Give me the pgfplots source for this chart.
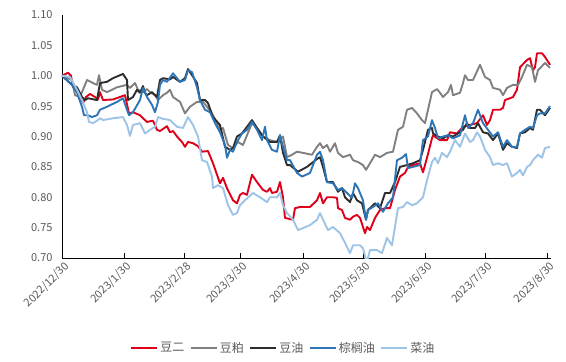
\documentclass[border=0pt]{standalone}
\usepackage{pgfplots}
\pgfplotsset{compat=1.18}
\usepackage{fontspec}
\setmainfont{Noto Sans CJK SC}
\definecolor{cred}{RGB}{222,0,26}
\definecolor{cgray}{RGB}{128,128,128}
\definecolor{cblack}{RGB}{45,45,45}
\definecolor{cblue}{RGB}{46,117,182}
\definecolor{clblue}{RGB}{157,195,230}
\definecolor{labgray}{RGB}{89,89,89}
\begin{document}
\begin{tikzpicture}
\useasboundingbox (-62pt,-104pt) rectangle (504pt,258pt);
\begin{axis}[
  at={(0pt,0pt)}, anchor=south west,
  scale only axis, width=489pt, height=243pt,
  xmin=0, xmax=244.5, ymin=0.70, ymax=1.10,
  axis x line*=bottom, axis y line*=left,
  axis line style={black, line width=0.8pt},
  tick align=inside,
  major tick length=5pt,
  xtick={0,31,61,89,120.5,150.5,181.5,211.5,242.75},
  xticklabels={2022/12/30,2023/1/30,2023/2/28,2023/3/30,2023/4/30,2023/5/30,2023/6/30,2023/7/30,2023/8/30},
  xtick style={black, line width=0.8pt},
  x tick label style={rotate=45, anchor=north east, font=\fontsize{11}{12}\selectfont, text=labgray, inner sep=1pt, yshift=-2pt},
  ytick={0.70,0.75,...,1.101},
  ytick style={draw=none},
  y tick label style={font=\fontsize{11}{12}\selectfont, text=labgray, /pgf/number format/.cd, fixed, fixed zerofill, precision=2},
  /pgf/number format/assume math mode=true,
  yticklabel shift=6pt,
  legend columns=5,
  legend style={at={(0.452,-0.37)}, anchor=center, draw=none, fill=none,
    font=\fontsize{12}{13}\selectfont, text=labgray, inner sep=0pt,
    /tikz/every even column/.append style={column sep=3pt}},
  legend image code/.code={\draw[line width=2.5pt] (0pt,0pt) -- (26pt,0pt);},
  every axis plot/.append style={line width=1.9pt, line join=round},
  clip=true,
]
\addplot[cred] coordinates {
(0,1.00)(3,1.005)(4.5,1.00)(5.5,0.981)(7.5,0.977)(10.5,0.955)(12,0.965)(14,0.970)(16.5,0.965)(18,0.961)(19,0.973)(20.5,0.960)(25.5,0.961)(31.5,0.968)(32.5,0.953)(33.5,0.938)(35.5,0.940)(39,0.935)(40.5,0.930)(42.5,0.924)(45.5,0.926)(47.5,0.911)(49,0.909)(52.5,0.917)(54,0.907)(55.5,0.909)(57.5,0.900)(60,0.891)(61.5,0.883)(63,0.891)(65.5,0.889)(68,0.884)(70,0.875)(73,0.876)(75.5,0.856)(79,0.823)(80.5,0.832)(82.5,0.815)(85.5,0.795)(87.5,0.790)(89,0.804)(90.5,0.807)(92.5,0.804)(95,0.837)(97.5,0.825)(100.5,0.812)(102.5,0.809)(104,0.815)(105,0.807)(107.5,0.809)(109,0.825)(110.5,0.800)(111.5,0.766)(114,0.764)(115.5,0.763)(116.5,0.782)(119,0.784)(124,0.784)(127.5,0.795)(129,0.807)(130.5,0.790)(132.5,0.800)(135.5,0.800)(137.5,0.799)(138,0.782)(140,0.779)(141.5,0.766)(144,0.763)(145.5,0.768)(147.5,0.771)(149,0.766)(151.5,0.741)(152.5,0.751)(154,0.746)(156.5,0.766)(159,0.779)(161.5,0.782)(164,0.782)(166.5,0.812)(169,0.834)(171.5,0.840)(173,0.850)(175.5,0.853)(179,0.856)(180.5,0.841)(182.5,0.865)(185,0.897)(185.5,0.902)(189,0.894)(192.5,0.894)(194,0.907)(197.5,0.905)(200.5,0.916)(204,0.919)(207.5,0.922)(210.5,0.935)(212.5,0.919)(214,0.927)(215.5,0.944)(219,0.944)(220.5,0.947)(221.5,0.960)(224,0.963)(225.5,0.965)(227.5,0.977)(229,1.014)(232.5,1.026)(234,1.029)(235.5,1.009)(236.5,1.014)(237.5,1.037)(240,1.037)(241.5,1.031)(244,1.018)
};
\addlegendentry{豆二}
\addplot[cgray] coordinates {
(0,1.00)(5,0.993)(6.5,0.968)(9,0.965)(10.5,0.977)(12.5,0.993)(15.5,0.988)(17.5,0.985)(18.5,1.001)(20,0.977)(22.5,0.973)(27.5,0.981)(32.5,0.985)(34,0.980)(36.5,0.988)(38,0.977)(40.5,0.973)(42.5,0.978)(44,0.973)(46.5,0.968)(48,0.960)(50.5,0.968)(52.5,0.972)(54,0.977)(55.5,0.965)(59,0.957)(61.5,0.938)(64,0.949)(67.5,0.957)(70.5,0.957)(73,0.947)(75.5,0.935)(79,0.911)(80.5,0.914)(83,0.886)(85.5,0.881)(88,0.891)(90.5,0.886)(95,0.922)(97.5,0.914)(100.5,0.900)(104,0.894)(108,0.891)(110.5,0.900)(112.5,0.866)(115,0.870)(117.5,0.875)(120.5,0.873)(125,0.870)(127.5,0.883)(129,0.889)(130.5,0.881)(132.5,0.886)(134,0.875)(136.5,0.889)(138,0.873)(140.5,0.866)(144,0.870)(145.5,0.861)(148,0.858)(150.5,0.853)(152,0.845)(154,0.856)(156.5,0.870)(159,0.866)(162.5,0.873)(165.5,0.875)(168,0.911)(170.5,0.916)(172.5,0.944)(175,0.947)(177.5,0.938)(180,0.927)(181.5,0.922)(183,0.944)(185,0.973)(187.5,0.978)(189,0.972)(190.5,0.965)(193,0.973)(194.5,0.985)(195.5,0.968)(199,0.972)(200.5,0.988)(201.5,1.001)(203,0.993)(205.5,0.993)(209,1.018)(211.5,0.998)(214,0.993)(215.5,0.980)(219,0.977)(220.5,0.968)(222.5,0.980)(225.5,0.985)(228,0.985)(230,0.998)(232.5,1.018)(235,1.014)(236.5,0.990)(238,1.009)(241.5,1.021)(244,1.013)
};
\addlegendentry{豆粕}
\addplot[cblack] coordinates {
(0,1.00)(5,0.985)(7.5,0.981)(10,0.965)(11.5,0.960)(13,0.963)(17.5,0.960)(19,0.988)(22.5,0.990)(25.5,0.996)(30.5,1.003)(32.5,0.993)(33,0.960)(35.5,0.965)(37.5,0.977)(39,0.972)(40.5,0.983)(41.5,0.972)(42.5,0.968)(45,0.973)(47.5,0.965)(49,0.993)(50.5,0.996)(54,0.994)(55.5,0.998)(59,0.990)(61.5,0.996)(63,1.011)(65,1.001)(67.5,0.988)(69,0.960)(71.5,0.960)(73,0.955)(75.5,0.932)(79,0.919)(81.5,0.883)(84,0.878)(85.5,0.881)(87.5,0.900)(90,0.905)(92.5,0.916)(95,0.927)(97.5,0.914)(100.5,0.900)(104,0.891)(107.5,0.891)(109,0.902)(110.5,0.873)(112.5,0.853)(114,0.853)(118,0.842)(122.5,0.850)(127.5,0.863)(129,0.866)(130.5,0.850)(132.5,0.825)(135.5,0.825)(138,0.809)(140,0.815)(141.5,0.800)(144,0.792)(145.5,0.807)(147.5,0.795)(150,0.790)(152,0.763)(153,0.779)(156.5,0.790)(159,0.782)(161.5,0.807)(164,0.807)(166.5,0.825)(169,0.850)(172.5,0.853)(175.5,0.856)(179,0.861)(180.5,0.878)(183,0.911)(185,0.914)(185.5,0.905)(188,0.900)(190.5,0.897)(193,0.902)(195.5,0.900)(198,0.905)(200.5,0.911)(202.5,0.922)(204,0.914)(206.5,0.914)(208,0.922)(210.5,0.907)(213,0.905)(215.5,0.894)(218,0.905)(220.5,0.878)(222.5,0.889)(225,0.883)(227.5,0.881)(229,0.905)(231.5,0.907)(234,0.914)(235.5,0.911)(237.5,0.944)(239,0.944)(241.5,0.935)(244,0.947)
};
\addlegendentry{豆油}
\addplot[cblue] coordinates {
(0,1.00)(5,0.985)(7.5,0.972)(10,0.949)(11,0.935)(13,0.935)(15,0.932)(17.5,0.935)(19,0.944)(22.5,0.949)(27.5,0.957)(30.5,0.963)(32.5,0.944)(33.5,0.935)(35.5,0.940)(39,0.960)(40.5,0.980)(42.5,0.965)(45,0.952)(46.5,0.940)(48,0.957)(49,0.985)(50.5,0.993)(52.5,0.990)(55.5,1.004)(59,0.990)(61.5,0.993)(63,1.009)(65,1.006)(67.5,0.981)(69,0.960)(71.5,0.944)(74,0.940)(76.5,0.922)(79,0.907)(81.5,0.886)(82.5,0.865)(84,0.878)(85.5,0.875)(87.5,0.891)(90,0.905)(92.5,0.911)(95,0.924)(97.5,0.911)(100,0.894)(101.5,0.916)(102.5,0.894)(105,0.878)(107.5,0.875)(109,0.902)(110.5,0.883)(112.5,0.861)(114,0.861)(117.5,0.840)(120,0.834)(124,0.840)(127.5,0.870)(129,0.875)(130.5,0.861)(132.5,0.825)(135.5,0.823)(138,0.812)(140,0.815)(142.5,0.807)(145,0.799)(146.5,0.823)(148,0.815)(150.5,0.795)(152,0.763)(153,0.779)(155.5,0.784)(158,0.790)(160.5,0.776)(163,0.790)(165.5,0.800)(167.5,0.861)(170,0.865)(172,0.871)(173,0.848)(175.5,0.850)(179,0.853)(180.5,0.894)(183,0.900)(185,0.927)(186.5,0.914)(188,0.897)(190.5,0.900)(193,0.902)(195.5,0.897)(199,0.902)(201.5,0.935)(203,0.914)(205.5,0.922)(208,0.944)(210.5,0.922)(213,0.911)(215.5,0.900)(218,0.907)(220.5,0.883)(222.5,0.894)(225,0.883)(227.5,0.883)(229,0.905)(231.5,0.911)(234,0.916)(235.5,0.914)(237.5,0.935)(239,0.938)(241.5,0.938)(244,0.950)
};
\addlegendentry{棕榈油}
\addplot[clblue] coordinates {
(0,1.00)(4,0.998)(7.5,0.977)(10,0.960)(12.5,0.940)(13.5,0.924)(15.5,0.922)(17.5,0.926)(19,0.930)(20.5,0.927)(25.5,0.930)(30.5,0.932)(32.5,0.919)(34,0.901)(35.5,0.919)(39,0.922)(41.5,0.905)(44,0.911)(46.5,0.916)(48,0.932)(50.5,0.929)(54,0.927)(57.5,0.916)(60.5,0.914)(63,0.932)(65.5,0.919)(68,0.900)(70,0.861)(72.5,0.858)(75,0.834)(75.5,0.815)(78,0.820)(80.5,0.815)(83,0.787)(85.5,0.771)(87.5,0.774)(89,0.787)(91.5,0.795)(95.5,0.807)(99,0.800)(102.5,0.792)(104,0.800)(107.5,0.800)(109,0.807)(110.5,0.787)(112.5,0.774)(115.5,0.763)(118,0.746)(124,0.754)(127.5,0.763)(129,0.774)(130.5,0.763)(133,0.746)(135.5,0.751)(139,0.741)(141.5,0.725)(144,0.708)(145.5,0.721)(149,0.721)(150.5,0.716)(152,0.697)(153,0.700)(154,0.713)(157.5,0.713)(160,0.708)(162.5,0.733)(165,0.721)(168,0.782)(170.5,0.784)(172.5,0.792)(175,0.787)(177.5,0.790)(179,0.795)(180.5,0.800)(182.5,0.828)(185,0.858)(186.5,0.865)(188,0.856)(190,0.873)(192.5,0.866)(194,0.875)(196.5,0.894)(199,0.883)(201.5,0.905)(204,0.891)(205.5,0.894)(207.5,0.907)(209,0.900)(211.5,0.878)(214,0.866)(215.5,0.853)(218,0.856)(220.5,0.853)(222.5,0.856)(225,0.834)(227.5,0.840)(229,0.845)(230.5,0.836)(232.5,0.850)(234,0.853)(235.5,0.861)(238,0.870)(240,0.865)(241.5,0.881)(244,0.883)
};
\addlegendentry{菜油}
\end{axis}
\end{tikzpicture}
\end{document}
